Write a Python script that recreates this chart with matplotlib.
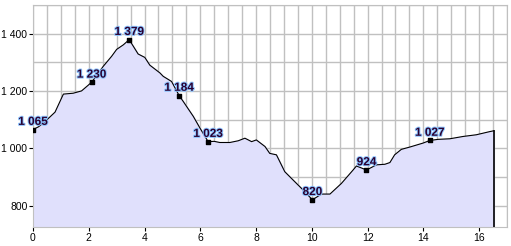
import matplotlib
matplotlib.use("Agg")
import matplotlib.pyplot as plt
import matplotlib.patheffects as pe
from matplotlib.ticker import MultipleLocator, FuncFormatter

plt.rcParams["font.family"] = ["Liberation Sans", "DejaVu Sans"]

# ---- profile data (distance km, elevation m) ----
dist = [0.0, 0.2, 0.43, 0.79, 1.09, 1.44, 1.74, 2.1, 2.52, 2.82, 3.0, 3.24, 3.45,
        3.77, 4.01, 4.19, 4.55, 4.67, 4.97, 5.24, 5.39, 5.75, 5.99, 6.28, 6.5,
        6.7, 7.06, 7.36, 7.6, 7.84, 8.01, 8.32, 8.49, 8.73, 9.03, 9.39, 9.69,
        10.02, 10.35, 10.65, 11.06, 11.48, 11.6, 11.96, 12.32, 12.62, 12.8,
        12.97, 13.21, 13.51, 13.99, 14.23, 14.53, 14.95, 15.42, 15.9, 16.38, 16.53]
elev = [1065, 1075, 1093, 1126, 1189, 1192, 1200, 1230, 1286, 1321, 1345, 1361, 1379,
        1329, 1317, 1290, 1263, 1251, 1233, 1184, 1163, 1111, 1070, 1023, 1024,
        1020, 1020, 1026, 1035, 1023, 1029, 1006, 982, 977, 918, 883, 854,
        820, 840, 840, 877, 924, 938, 924, 942, 944, 950,
        977, 996, 1004, 1018, 1027, 1031, 1033, 1041, 1047, 1058, 1061]

# ---- labelled points ----
mark_x = [0.0, 2.1, 3.45, 5.24, 6.28, 10.02, 11.96, 14.23]
mark_y = [1065, 1230, 1379, 1184, 1023, 820, 924, 1027]
mark_lbl = ["1 065", "1 230", "1 379", "1 184", "1 023", "820", "924", "1 027"]

fig = plt.figure(figsize=(5.11, 2.46), dpi=100)
ax = fig.add_axes([33 / 511, 1 - 227 / 246, (507 - 33) / 511, (227 - 5) / 246])

ax.fill_between(dist, elev, 700, color="#e0e0fc", zorder=1)
ax.plot(dist, elev, color="black", lw=0.8, zorder=3)
ax.plot([dist[-1], dist[-1]], [700, elev[-1]], color="black", lw=1.2, zorder=3)

ax.scatter(mark_x, mark_y, marker="s", s=12, color="black", zorder=4)
for x, y, t in zip(mark_x, mark_y, mark_lbl):
    ax.text(x, y + 6, t, ha="center", va="bottom", fontsize=8.5,
            color="#2a0030", fontweight="bold", zorder=5,
            path_effects=[pe.withStroke(linewidth=1.4, foreground="#8cc4ff")])

ax.set_xlim(0, 17)
ax.set_ylim(725, 1500)
ax.xaxis.set_major_locator(MultipleLocator(2))
ax.xaxis.set_minor_locator(MultipleLocator(0.5))
ax.yaxis.set_major_locator(MultipleLocator(200))
ax.yaxis.set_minor_locator(MultipleLocator(100))
ax.yaxis.set_major_formatter(FuncFormatter(lambda v, p: f"{int(v):,}".replace(",", " ")))

ax.grid(which="both", color="#c0c0c0", lw=1, zorder=0)
ax.set_axisbelow(True)
for s in ax.spines.values():
    s.set_color("#c0c0c0")
ax.tick_params(which="major", labelsize=7.5, length=3, color="black", pad=1)
ax.tick_params(which="minor", length=0)

fig.savefig("out.png", dpi=100)
